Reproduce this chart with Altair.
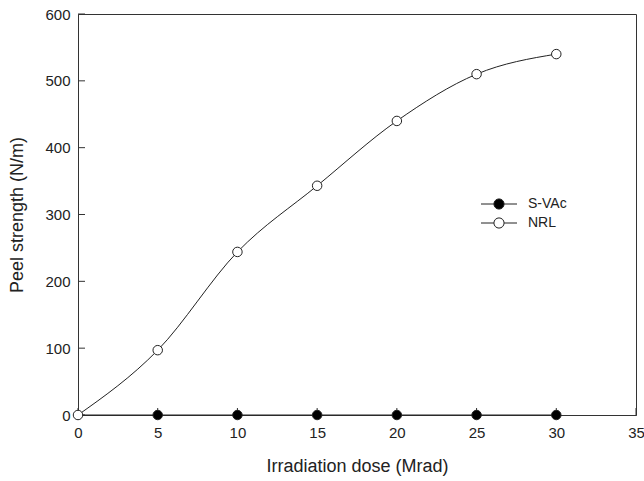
import altair as alt
import pandas as pd

dose = [0, 5, 10, 15, 20, 25, 30]
nrl = [0, 97, 244, 343, 440, 510, 540]
svac = [0, 0, 0, 0, 0, 0, 0]
series_names = ["S-VAc", "NRL"]
x_ticks = [0, 5, 10, 15, 20, 25, 30, 35]
y_ticks = [0, 100, 200, 300, 400, 500, 600]

rows = []
for d, v in zip(dose, svac):
    rows.append({"dose": d, "val": v, "series": "S-VAc"})
for d, v in zip(dose, nrl):
    rows.append({"dose": d, "val": v, "series": "NRL"})
df = pd.DataFrame(rows)

FONT = "Liberation Sans"
W, H = 558, 401

xs = alt.Scale(domain=[0, 35], nice=False, zero=False)
ys = alt.Scale(domain=[0, 600], nice=False)

xaxis = alt.Axis(values=x_ticks, ticks=False, labelPadding=10, title="Irradiation dose (Mrad)",
                 titlePadding=17, grid=False, labelFontSize=15, titleFontSize=18,
                 labelFont=FONT, titleFont=FONT, titleFontWeight="normal", labelColor="#222",
                 titleColor="#222", domainColor="#333", labelFlush=False)
yaxis = alt.Axis(values=y_ticks, ticks=False, labelPadding=8, title="Peel strength (N/m)",
                 titlePadding=18, grid=False, labelFontSize=15, titleFontSize=18,
                 labelFont=FONT, titleFont=FONT, titleFontWeight="normal", labelColor="#222",
                 titleColor="#222", domainColor="#333", labelFlush=False)

# custom legend glyph: line segment with a circle in the middle (scaled by sqrt(size)/2 = 6px)
sym = ("M-3,0 L-0.85,0 M0.85,0 L3,0 "
       "M-0.85,0 A0.85,0.85 0 1,0 0.85,0 A0.85,0.85 0 1,0 -0.85,0 Z")

base = alt.Chart(df)

lines = base.mark_line(interpolate="monotone", color="#222", strokeWidth=1).encode(
    x=alt.X("dose:Q", scale=xs, axis=xaxis),
    y=alt.Y("val:Q", scale=ys, axis=yaxis),
    detail="series:N",
)

svac_pts = base.transform_filter(alt.datum.series == "S-VAc").transform_filter(alt.datum.dose > 0)
nrl_pts = base.transform_filter(alt.datum.series == "NRL")

fill_scale = alt.Scale(domain=series_names, range=["black", "white"])

pts_s = svac_pts.mark_point(filled=True, size=90, stroke="#222", strokeWidth=1, opacity=1).encode(
    x=alt.X("dose:Q", scale=xs),
    y=alt.Y("val:Q", scale=ys),
    fill=alt.Fill("series:N", scale=fill_scale, legend=alt.Legend(
        title=None, orient="none", legendX=414, legendY=183, symbolType=sym,
        symbolSize=144, symbolStrokeColor="#222", symbolStrokeWidth=1,
        labelFont=FONT, labelFontSize=14, labelColor="#222", rowPadding=3,
        labelOffset=22, symbolOpacity=1)),
)
pts_n = nrl_pts.mark_point(filled=True, size=90, stroke="#222", strokeWidth=1, opacity=1).encode(
    x=alt.X("dose:Q", scale=xs),
    y=alt.Y("val:Q", scale=ys),
    fill=alt.Fill("series:N", scale=fill_scale),
)

ytick_df = pd.DataFrame({"v": y_ticks})
xtick_df = pd.DataFrame({"v": x_ticks})
yt = alt.Chart(ytick_df).mark_rule(color="#333", strokeWidth=1).encode(
    y=alt.Y("v:Q", scale=ys), x=alt.value(0), x2=alt.value(7))
xt = alt.Chart(xtick_df).mark_rule(color="#333", strokeWidth=1).encode(
    x=alt.X("v:Q", scale=xs), y=alt.value(H), y2=alt.value(H - 7))

chart = alt.layer(yt, xt, lines, pts_s, pts_n).properties(
    width=W, height=H,
    autosize=alt.AutoSizeParams(type="none"),
    padding={"left": 78, "top": 14, "right": 8, "bottom": 66},
    background="white",
).configure_view(stroke="#333", strokeWidth=1)

chart.save("out.html", embed_options={"renderer": "svg", "actions": False})
